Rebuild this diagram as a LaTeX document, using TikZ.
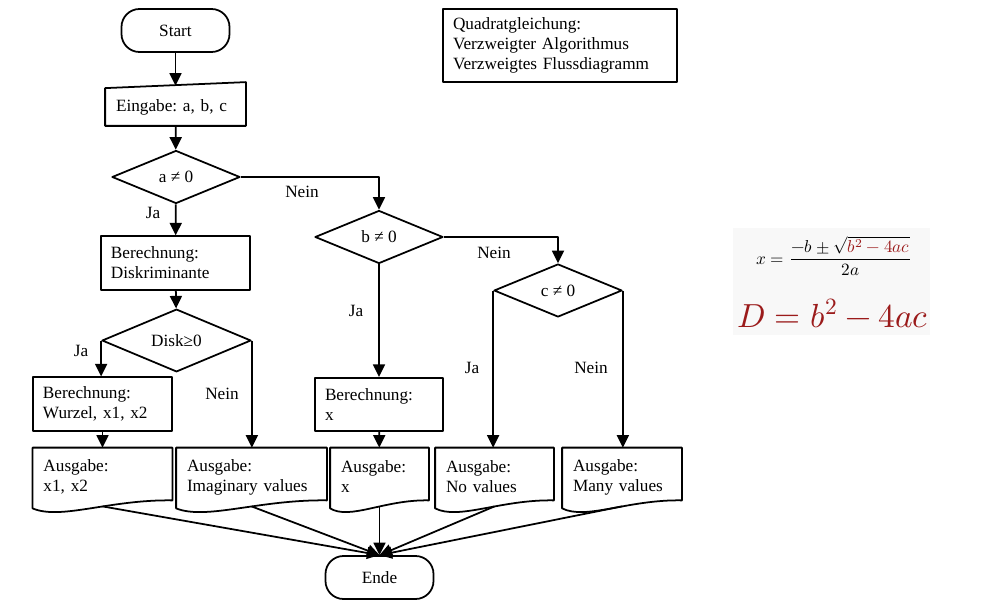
\documentclass[tikz,border=0pt]{standalone}
\usepackage{amsmath}
\usepackage{fontspec}
\usepackage{unicode-math}
\setmainfont{Liberation Serif}
\setmathfont{Latin Modern Math}
\usetikzlibrary{shapes.geometric,arrows.meta,calc}
\definecolor{formred}{RGB}{155,27,27}
\definecolor{formbg}{RGB}{248,248,248}

\begin{document}
\begin{tikzpicture}[x=0.2mm, y=-0.2mm, line width=1pt, line join=round,
	font=\fontsize{9.8}{11.4}\selectfont\frenchspacing,
	>={Triangle[length=2.5mm,width=2.4mm]},
	term/.style={draw, rounded corners=3.6mm, minimum width=21.6mm, minimum height=8.6mm},
	proc/.style={draw, text width=#1, inner xsep=2mm, minimum height=10.7mm, align=left},
	doc/.style={text width=#1, inner xsep=2mm, minimum height=11.4mm, align=left},
	inp/.style={text width=#1, inner xsep=2mm, minimum height=7.2mm, align=left},
	dec/.style={draw, diamond, inner sep=0pt, minimum width=#1, minimum height=10.6mm},
	dec/.default=25.6mm]
	\useasboundingbox (0,0) rectangle (1000,600);
	% linker Zweig
	\node[term] (start) at (175.5,30.5) {Start};
	\node[inp=23.8mm] (input) at (175.5,107) {Eingabe: a, b, c};
	\node[dec] (qa) at (176,177) {a ≠ 0};
	\node[proc=25.8mm] (berD) at (175.5,263) {Berechnung:\\Diskriminante};
	\node[dec=29.8mm] (qd) at (176.5,340.5) {Disk≥0};
	\node[proc=23.8mm] (berW) at (102.5,404) {Berechnung:\\Wurzel, x1, x2};
	\node[doc=23.6mm] (ausW) at (102.5,477) {Ausgabe:\\x1, x2};
	\node[doc=25.8mm] (ausI) at (251.5,477) {Ausgabe:\\Imaginary values};
	% rechter Zweig
	\node[dec] (qb) at (379,237) {b ≠ 0};
	\node[proc=21.6mm] (berX) at (379,404.5) {Berechnung:\\x};
	\node[doc=15.4mm] (ausX) at (379.5,477) {Ausgabe:\\x};
	\node[dec] (qc) at (558,290.5) {c ≠ 0};
	\node[doc=19.4mm] (ausN) at (494.5,477) {Ausgabe:\\No values};
	\node[doc=19.6mm] (ausM) at (622,477) {Ausgabe:\\Many values};
	\node[term] (ende) at (379.5,577.5) {Ende};
	\node[draw, text width=42.8mm, inner xsep=2mm, minimum height=14.6mm, align=left] (title) at (560,45.5)
		{Quadratgleichung:\\Verzweigter Algorithmus\\Verzweigtes Flussdiagramm};
	% Umrisse
	\draw (input.south west) -- (input.north west) -- ([yshift=1.2mm]input.north east) -- (input.south east) -- cycle;
	\foreach \d in {ausW,ausI,ausX,ausN,ausM}{
		\draw (\d.north west) -- (\d.north east) -- ([yshift=1.2mm]\d.south east)
			.. controls ([yshift=1.4mm]$(\d.south west)!0.55!(\d.south east)$) and ([yshift=-2.8mm]$(\d.south west)!0.2!(\d.south east)$) ..
			([yshift=-0.4mm]\d.south west) -- cycle;
		\draw[->] (\d.south) -- (ende.north);}
	% Verbindungen
	\draw[->] (start) -- ([yshift=0.5mm]input.north);
	\draw[->] (input) -- (qa);
	\draw[->] (qa) -- (berD);
	\draw[->] (qa.east) -| (qb.north);
	\draw[->] (berD) -- (qd);
	\draw[->] (qd.west) -- (qd.west |- berW.north);
	\draw[->] (qd.east) -- (qd.east |- ausI.north);
	\draw[->] (berW) -- (ausW);
	\draw[->] (qb) -- (berX);
	\draw[->] (qb.east) -| (qc.north);
	\draw[->] (berX) -- (ausX);
	\draw[->] (qc.west) -- (qc.west |- ausN.north);
	\draw[->] (qc.east) -- (qc.east |- ausM.north);
	\foreach \n/\p/\t in {nA/{302,192}/Nein, jA/{153,213}/Ja, jD/{81,351}/Ja, nD/{222,394}/Nein,
		jB/{356,311}/Ja, nB/{494,253}/Nein, jC/{472,368}/Ja, nC/{591,368}/Nein}
		\node (\n) at (\p) {\t};
	% Formeln
	\fill[formbg] (733,228) rectangle (930,335);
	\node (fx) at (834,256) {$x=\dfrac{-b\pm\sqrt{\textcolor{formred}{b^2-4ac}}}{2a}$};
	\node[anchor=base, text=formred, font=\fontsize{19}{22}\selectfont] (fd) at (833,327) {$D=b^2-4ac$};
\end{tikzpicture}
\end{document}
